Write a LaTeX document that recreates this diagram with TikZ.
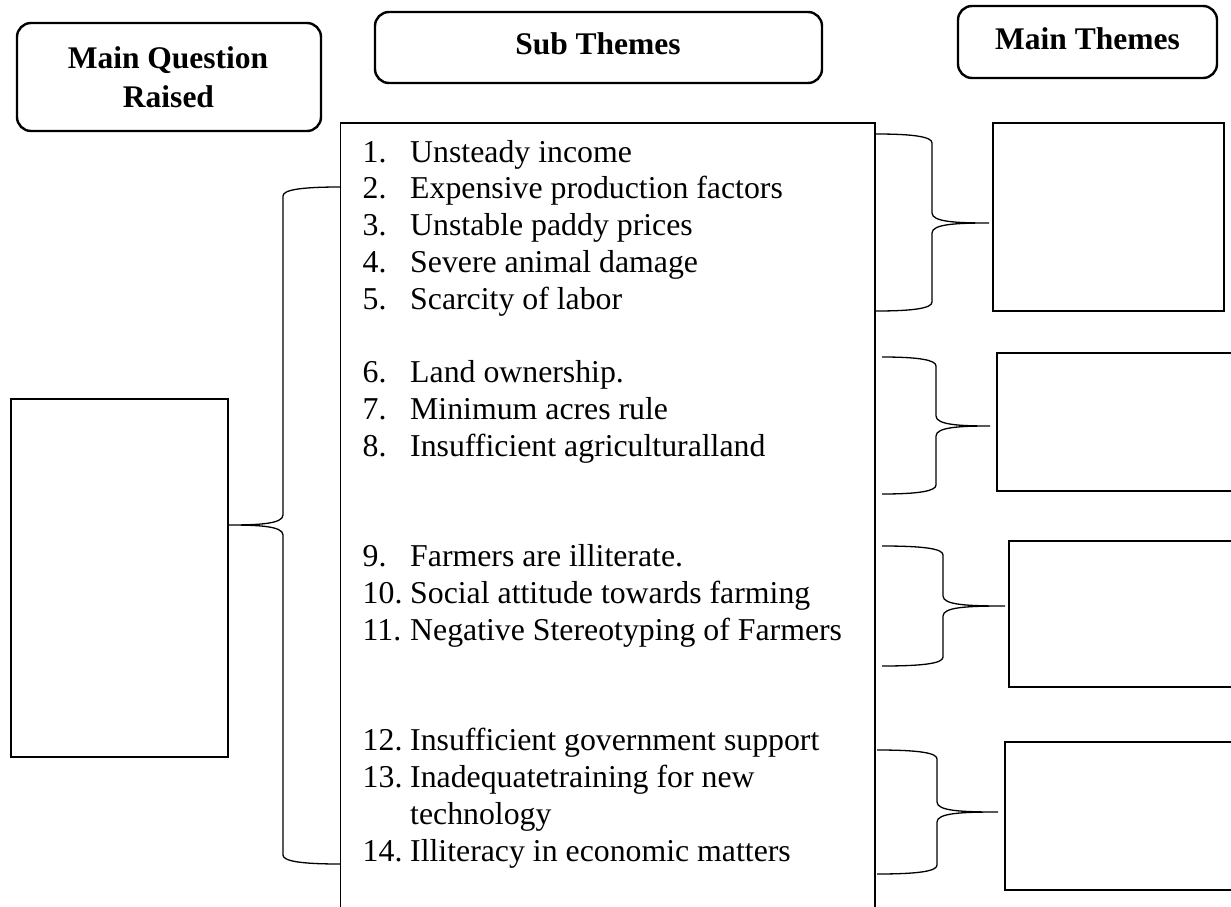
\documentclass[tikz,border=0pt]{standalone}
\usepackage{fontspec}
\setmainfont{Liberation Serif}
\newcommand\BraceG[7]{% xe yt yb xv xt ym sign
  \draw[bracepath] (#1,#2) .. controls ({#4-17*#7},#2) and (#4,{#2+3}) .. (#4,{#2+9})
    -- (#4,{#6-10}) .. controls (#4,{#6-1}) and ({#4+25*#7},#6) .. (#5,#6)
    .. controls ({#4+25*#7},#6) and (#4,{#6+1}) .. (#4,{#6+10})
    -- (#4,{#3-9}) .. controls (#4,{#3-3}) and ({#4-17*#7},#3) .. (#1,#3);}
\begin{document}
\begin{tikzpicture}[x=1pt,y=-1pt,
  headbox/.style={draw, line width=2.4pt, rounded corners=14pt, inner sep=0pt},
  plainbox/.style={draw, line width=1.4pt, inner sep=0pt},
  headtext/.style={font=\fontsize{31.5}{39}\selectfont\bfseries, anchor=base, inner sep=0pt},
  itemtext/.style={font=\fontsize{31.8}{36.8}\selectfont, anchor=base west, inner sep=0pt},
  bracepath/.style={line width=1.3pt}]
\useasboundingbox (0,0) rectangle (1231,907);
% heading boxes
\node[headbox, minimum width=304pt, minimum height=108pt] (mqbox) at (169,77) {};
\node[headtext] (mqa) at (168,68) {Main Question};
\node[headtext] (mqb) at (168.5,107) {Raised};
\node[headbox, minimum width=447pt, minimum height=71pt] (stbox) at (598.5,47.5) {};
\node[headtext] (sttxt) at (598,55) {Sub Themes};
\node[headbox, minimum width=259pt, minimum height=72pt] (mtbox) at (1087.5,42) {};
\node[headtext] (mttxt) at (1087.5,50) {Main Themes};
% plain boxes
\node[plainbox, minimum width=217pt, minimum height=358pt] (qbox) at (119.5,578) {};
\node[plainbox, minimum width=231pt, minimum height=188pt] (tbox1) at (1108.5,217) {};
\node[plainbox, minimum width=243pt, minimum height=138pt] (tbox2) at (1118.5,422) {};
\node[plainbox, minimum width=231pt, minimum height=146pt] (tbox3) at (1124.5,614) {};
\node[plainbox, minimum width=235pt, minimum height=148pt] (tbox4) at (1122.5,816) {};
% sub themes list box (open at the bottom)
\coordinate (lbl) at (340.5,912);
\coordinate (ltl) at (340.5,123);
\coordinate (ltr) at (875,123);
\coordinate (lbr) at (875,912);
\draw[line width=1.4pt] (lbl) -- (ltl) -- (ltr) -- (lbr);
% items
\foreach \n/\num/\txt [count=\i] in {0/1./Unsteady income, 1/2./Expensive production factors,
  2/3./Unstable paddy prices, 3/4./Severe animal damage, 4/5./Scarcity of labor,
  6/6./Land ownership., 7/7./Minimum acres rule, 8/8./Insufficient agriculturalland,
  11/9./Farmers are illiterate., 12/10./Social attitude towards farming,
  13/11./Negative Stereotyping of Farmers, 16/12./Insufficient government support,
  17/13./Inadequatetraining for new, 19/14./Illiteracy in economic matters} {
  \node[itemtext] (no\i) at (362.5,{162+36.8*\n}) {\num};
  \node[itemtext] (it\i) at (410,{162+36.8*\n}) {\txt};
}
\node[itemtext] (it13b) at (410,{162+36.8*18}) {technology};
% braces
\BraceG{340}{187}{864}{283}{228}{525}{-1}
\BraceG{876}{134}{311}{932}{989}{223}{1}
\BraceG{882}{357}{494}{936}{990}{426}{1}
\BraceG{882}{546}{666}{943}{1005}{606}{1}
\BraceG{877}{750}{874}{937}{998}{812}{1}
\end{tikzpicture}
\end{document}
